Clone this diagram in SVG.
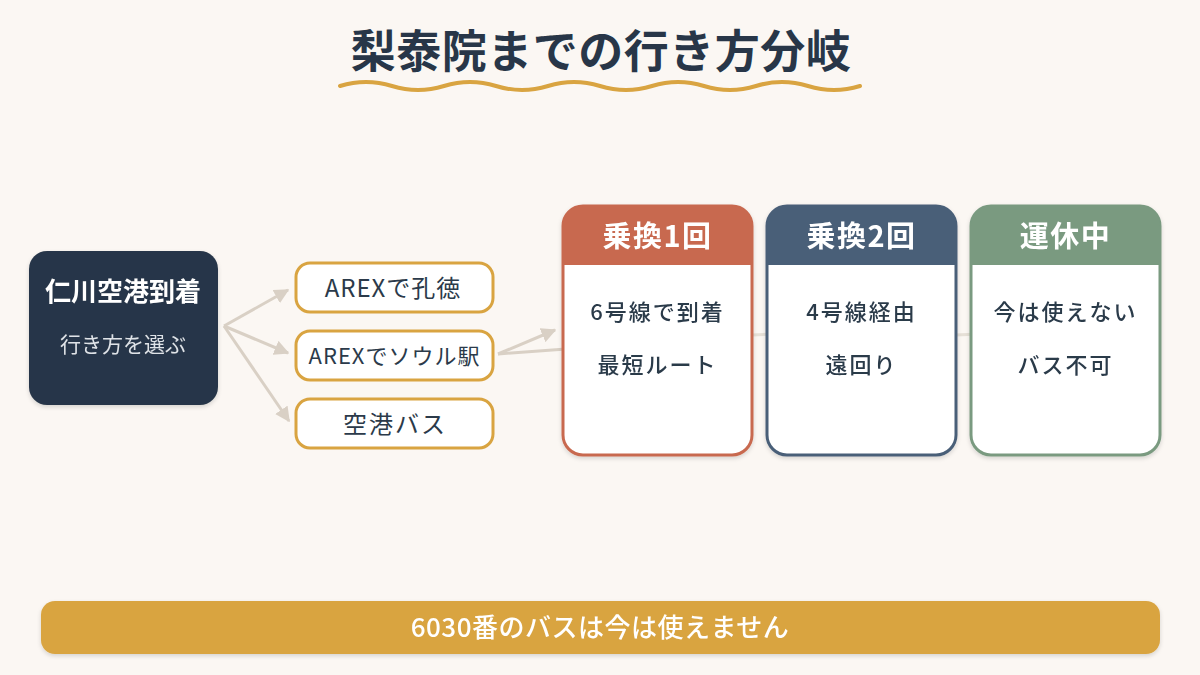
<svg xmlns="http://www.w3.org/2000/svg" width="1200" height="675" viewBox="0 0 1200 675">
<defs>
<marker id="ah" viewBox="0 0 10 10" refX="9" refY="5" markerWidth="5" markerHeight="5" orient="auto" markerUnits="strokeWidth">
<path d="M0,0 L10,5 L0,10 z" fill="#d9d0c5"/>
</marker>
<filter id="sh" x="-10%" y="-10%" width="120%" height="125%">
<feDropShadow dx="0" dy="2" stdDeviation="2" flood-color="#000" flood-opacity="0.15"/>
</filter>
<style>
text{font-family:"Noto Sans CJK JP","Noto Sans",sans-serif;text-anchor:middle}
.conn{stroke:#d9d0c5;stroke-width:3;fill:none}
.branch rect{fill:#fff;stroke:#d9a441;stroke-width:3}
.branch text{font-size:24px;fill:#2b3a4a;font-weight:400}
.branch text.sm{font-size:22px}
.card .body{fill:#fff;stroke-width:3}
.card .hd{font-size:29px;font-weight:bold;fill:#fff;letter-spacing:1.5px}
.card .tx{font-size:22px;fill:#2b3a4a;font-weight:500;letter-spacing:2px}
</style>
</defs>
<rect width="1200" height="675" fill="#fbf7f3"/>
<g id="title">
<text x="601" y="68" font-size="45" font-weight="bold" fill="#283648" letter-spacing="0.5">梨泰院までの行き方分岐</text>
<path d="M340,86 q26,-8 52,0 t52,0 t52,0 t52,0 t52,0 t52,0 t52,0 t52,0 t52,0 t52,0" fill="none" stroke="#d9a441" stroke-width="4" stroke-linecap="round"/>
</g>
<g id="connectors">
<line class="conn" x1="224" y1="326" x2="288" y2="290" marker-end="url(#ah)"/>
<line class="conn" x1="224" y1="326" x2="288" y2="353" marker-end="url(#ah)"/>
<line class="conn" x1="224" y1="326" x2="289" y2="421" marker-end="url(#ah)"/>
<line class="conn" x1="498" y1="354" x2="555" y2="330" marker-end="url(#ah)"/>
<line class="conn" x1="498" y1="354" x2="566" y2="349"/>
<line class="conn" x1="700" y1="337" x2="800" y2="333" opacity="0.6"/>
<line class="conn" x1="905" y1="337" x2="1005" y2="333" opacity="0.6"/>
</g>
<g id="start" filter="url(#sh)">
<rect x="29" y="251" width="189" height="154" rx="18" fill="#283648"/>
<text x="123" y="301" font-size="26" font-weight="bold" fill="#fff">仁川空港到着</text>
<text x="123" y="352" font-size="21" fill="#dfe3e8">行き方を選ぶ</text>
</g>
<g id="b1" class="branch">
<rect x="296" y="263" width="197" height="49" rx="14"/>
<text x="393" y="297" letter-spacing="1">AREXで孔徳</text>
</g>
<g id="b2" class="branch">
<rect x="296" y="331" width="197" height="49" rx="14"/>
<text class="sm" x="394.5" y="364" letter-spacing="1">AREXでソウル駅</text>
</g>
<g id="b3" class="branch">
<rect x="296" y="399" width="197" height="49" rx="14"/>
<text x="395" y="433" letter-spacing="2">空港バス</text>
</g>
<g id="c1" class="card" filter="url(#sh)">
<rect class="body" x="563" y="206" width="189" height="249" rx="20" stroke="#c8694f"/>
<path d="M563,265 V226 a20,20 0 0 1 20,-20 H732 a20,20 0 0 1 20,20 V265 z" fill="#c8694f"/>
<text class="hd" x="657.5" y="247">乗換1回</text>
<text class="tx" x="657.5" y="320">6号線で到着</text>
<text class="tx" x="657.5" y="373">最短ルート</text>
</g>
<g id="c2" class="card" filter="url(#sh)">
<rect class="body" x="767" y="206" width="189" height="249" rx="20" stroke="#4a5f78"/>
<path d="M767,265 V226 a20,20 0 0 1 20,-20 H936 a20,20 0 0 1 20,20 V265 z" fill="#4a5f78"/>
<text class="hd" x="861.5" y="247">乗換2回</text>
<text class="tx" x="861.5" y="320">4号線経由</text>
<text class="tx" x="861.5" y="373">遠回り</text>
</g>
<g id="c3" class="card" filter="url(#sh)">
<rect class="body" x="971" y="206" width="189" height="249" rx="20" stroke="#7a9a80"/>
<path d="M971,265 V226 a20,20 0 0 1 20,-20 H1140 a20,20 0 0 1 20,20 V265 z" fill="#7a9a80"/>
<text class="hd" x="1065.5" y="247">運休中</text>
<text class="tx" x="1065.5" y="320">今は使えない</text>
<text class="tx" x="1065.5" y="373">バス不可</text>
</g>
<g id="banner" filter="url(#sh)">
<rect x="41" y="601" width="1119" height="53" rx="14" fill="#d9a441"/>
<text x="600" y="637" font-size="26" font-weight="500" fill="#fff" letter-spacing="0.5">6030番のバスは今は使えません</text>
</g>
</svg>
